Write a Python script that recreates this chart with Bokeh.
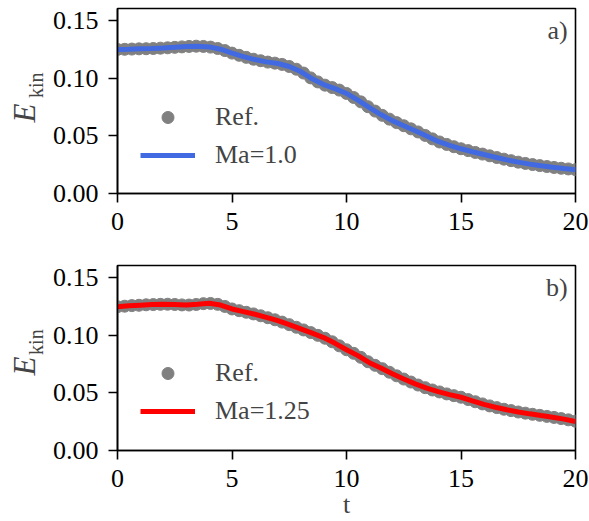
import math

from bokeh.embed import file_html
from bokeh.layouts import column, row
from bokeh.models import FixedTicker, Label, Legend, LegendItem, Range1d
from bokeh.plotting import figure
from bokeh.resources import INLINE

FONT = "Liberation Serif"

# reference samples (gray markers)
t_ref = [0.0, 0.3125, 0.625, 0.9375, 1.25, 1.5625, 1.875, 2.1875, 2.5, 2.8125,
         3.125, 3.4375, 3.75, 4.0625, 4.375, 4.6875, 5.0, 5.3125, 5.625, 5.9375,
         6.25, 6.5625, 6.875, 7.1875, 7.5, 7.8125, 8.125, 8.4375, 8.75, 9.0625,
         9.375, 9.6875, 10.0, 10.3125, 10.625, 10.9375, 11.25, 11.5625, 11.875, 12.1875,
         12.5, 12.8125, 13.125, 13.4375, 13.75, 14.0625, 14.375, 14.6875, 15.0, 15.3125,
         15.625, 15.9375, 16.25, 16.5625, 16.875, 17.1875, 17.5, 17.8125, 18.125, 18.4375,
         18.75, 19.0625, 19.375, 19.6875, 20.0]

ekin_ref_a = [0.1250, 0.1251, 0.1253, 0.1255, 0.1256, 0.1258, 0.1261, 0.1264, 0.1268, 0.1272,
              0.1276, 0.1278, 0.1276, 0.1270, 0.1258, 0.1240, 0.1218, 0.1199, 0.1181, 0.1165,
              0.1152, 0.1140, 0.1131, 0.1120, 0.1102, 0.1078, 0.1045, 0.1003, 0.0968, 0.0940,
              0.0919, 0.0897, 0.0868, 0.0833, 0.0795, 0.0753, 0.0715, 0.0678, 0.0645, 0.0615,
              0.0588, 0.0561, 0.0534, 0.0504, 0.0474, 0.0447, 0.0426, 0.0406, 0.0388, 0.0372,
              0.0356, 0.0342, 0.0327, 0.0312, 0.0298, 0.0285, 0.0272, 0.0261, 0.0251, 0.0242,
              0.0234, 0.0226, 0.0219, 0.0213, 0.0207]

ekin_ref_b = [0.1247, 0.1252, 0.1257, 0.1260, 0.1264, 0.1266, 0.1268, 0.1269, 0.1267, 0.1263,
              0.1262, 0.1267, 0.1274, 0.1276, 0.1268, 0.1250, 0.1228, 0.1213, 0.1199, 0.1185,
              0.1169, 0.1152, 0.1134, 0.1114, 0.1092, 0.1069, 0.1046, 0.1023, 0.0999, 0.0974,
              0.0943, 0.0908, 0.0874, 0.0843, 0.0808, 0.0770, 0.0739, 0.0710, 0.0679, 0.0648,
              0.0620, 0.0594, 0.0568, 0.0545, 0.0525, 0.0508, 0.0491, 0.0476, 0.0462, 0.0442,
              0.0423, 0.0404, 0.0387, 0.0372, 0.0358, 0.0346, 0.0334, 0.0324, 0.0314, 0.0305,
              0.0296, 0.0287, 0.0277, 0.0266, 0.0254]

# simulation output
t_sim = [0.0, 0.5, 1.0, 1.5, 2.0, 2.5, 3.0, 3.5, 4.0, 4.5,
         5.0, 5.5, 6.0, 6.5, 7.0, 7.5, 8.0, 8.5, 9.0, 9.5,
         10.0, 10.5, 11.0, 11.5, 12.0, 12.5, 13.0, 13.5, 14.0, 14.5,
         15.0, 15.5, 16.0, 16.5, 17.0, 17.5, 18.0, 18.5, 19.0, 19.5, 20.0]

ekin_ma100 = [0.1250, 0.1252, 0.1255, 0.1258, 0.1262, 0.1268, 0.1275, 0.1278, 0.1272, 0.1252,
              0.1218, 0.1188, 0.1162, 0.1142, 0.1128, 0.1102, 0.1058, 0.0995, 0.0945, 0.0910,
              0.0868, 0.0810, 0.0745, 0.0685, 0.0632, 0.0588, 0.0545, 0.0498, 0.0452, 0.0418,
              0.0388, 0.0362, 0.0338, 0.0315, 0.0292, 0.0272, 0.0255, 0.0240, 0.0228, 0.0217,
              0.0207]

ekin_ma125 = [0.1247, 0.1255, 0.1261, 0.1266, 0.1269, 0.1267, 0.1262, 0.1268, 0.1277, 0.1262,
              0.1228, 0.1205, 0.1182, 0.1155, 0.1127, 0.1092, 0.1055, 0.1018, 0.0980, 0.0930,
              0.0874, 0.0823, 0.0762, 0.0716, 0.0666, 0.0620, 0.0578, 0.0541, 0.0511, 0.0485,
              0.0462, 0.0430, 0.0400, 0.0375, 0.0353, 0.0334, 0.0318, 0.0303, 0.0289, 0.0272,
              0.0252]

x_ticks = [0, 5, 10, 15, 20]
y_ticks = [0.0, 0.05, 0.10, 0.15]
y_tick_labels = ["0.00", "0.05", "0.10", "0.15"]

TITLE_W = 48  # strip on the left that carries the vertical axis title


def make_title_strip(height, e_y, kin_y):
    """Narrow blank figure holding the rotated E_kin title (pixel coordinates)."""
    s = figure(width=TITLE_W, height=height, x_range=Range1d(0, TITLE_W),
               y_range=Range1d(0, height), x_axis_type=None, y_axis_type=None,
               output_backend="svg", toolbar_location=None,
               min_border=0, min_border_left=0, min_border_right=0,
               min_border_top=0, min_border_bottom=0)
    s.grid.visible = False
    s.outline_line_color = None
    s.background_fill_color = "white"
    s.border_fill_color = "white"
    s.add_layout(Label(x=24, y=e_y, text="E", angle=math.pi / 2,
                       text_align="left", text_baseline="alphabetic",
                       text_font=FONT, text_font_style="italic",
                       text_font_size="31px"))
    s.add_layout(Label(x=35, y=kin_y, text="kin", angle=math.pi / 2,
                       text_align="left", text_baseline="alphabetic",
                       text_font=FONT, text_font_size="20px"))
    return s


def make_panel(ref, sim, color, sim_label, tag, height, border_top, border_bottom,
               legend_y, x_title):
    p = figure(width=589 - TITLE_W, height=height,
               x_range=Range1d(0, 20), y_range=Range1d(0, 0.1605),
               output_backend="svg", toolbar_location=None,
               min_border_left=117 - TITLE_W, min_border_right=14,
               min_border_top=border_top, min_border_bottom=border_bottom)
    p.grid.visible = False
    p.background_fill_color = "white"
    p.border_fill_color = "white"
    p.outline_line_color = "black"
    p.outline_line_width = 1.6

    for ax in (p.xaxis[0], p.yaxis[0]):
        ax.axis_line_width = 1.6
        ax.major_tick_line_width = 1.6
        ax.major_tick_in = 0
        ax.major_tick_out = 9
        ax.minor_tick_line_color = None
        ax.major_label_text_font = FONT
        ax.major_label_text_font_size = "26px"
        ax.major_label_text_color = "black"

    p.xaxis.ticker = FixedTicker(ticks=x_ticks)
    p.xaxis.major_label_standoff = 10
    p.yaxis.ticker = FixedTicker(ticks=y_ticks)
    p.yaxis.major_label_overrides = dict(zip(y_ticks, y_tick_labels))
    p.yaxis.major_label_standoff = 10

    if x_title:
        p.xaxis.axis_label = x_title
        p.xaxis.axis_label_text_font = FONT
        p.xaxis.axis_label_text_font_size = "26px"
        p.xaxis.axis_label_text_font_style = "normal"
        p.xaxis.axis_label_standoff = 0

    r_ref = p.scatter(t_ref, ref, size=12, color="gray", line_color="gray")
    r_sim = p.line(t_sim, sim, line_width=5, color=color)

    legend = Legend(items=[LegendItem(label="Ref.", renderers=[r_ref]),
                           LegendItem(label=sim_label, renderers=[r_sim])],
                    location=(23, legend_y), margin=0, padding=0,
                    glyph_width=55, glyph_height=30, label_height=30,
                    label_standoff=20, spacing=8,
                    label_text_font=FONT, label_text_font_size="26px",
                    border_line_alpha=0, background_fill_alpha=0)
    p.add_layout(legend)

    p.add_layout(Label(x=19.66, y=0.1415, text=tag, text_align="right",
                       text_baseline="alphabetic", text_font=FONT,
                       text_font_size="26px"))
    return p


p_a = make_panel(ekin_ref_a, ekin_ma100, "royalblue", "Ma=1.0", "a)",
                 height=250, border_top=8, border_bottom=57, legend_y=23, x_title=None)
p_b = make_panel(ekin_ref_b, ekin_ma125, "red", "Ma=1.25", "b)",
                 height=271, border_top=15, border_bottom=71, legend_y=24, x_title="t")

s_a = make_title_strip(250, e_y=96, kin_y=129)
s_b = make_title_strip(271, e_y=110, kin_y=140)

layout = column(row(s_a, p_a, spacing=0), row(s_b, p_b, spacing=0), spacing=0)

with open("out.html", "w") as f:
    f.write(file_html(layout, INLINE))
